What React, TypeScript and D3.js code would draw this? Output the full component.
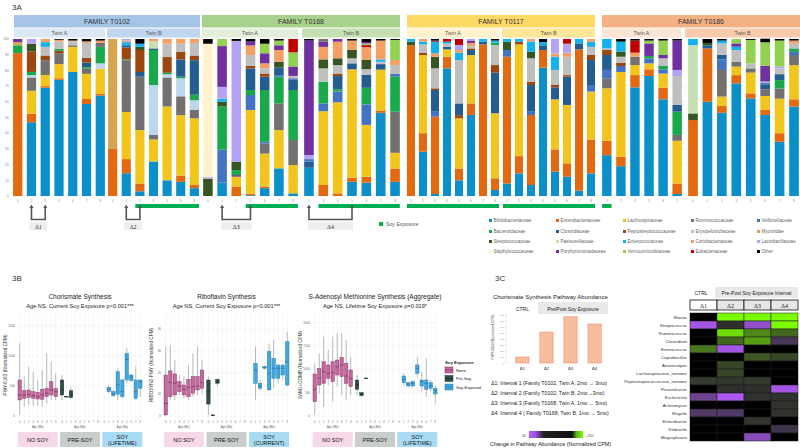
import React from "react";
import * as d3 from "d3";

const SANS = "'Liberation Sans', Arial, Helvetica, sans-serif";
const SERIF = "'Liberation Serif', 'Times New Roman', serif";

// ================= 3A DATA =================
const taxaKeys = ["Bi","En","La","Ru","Ve","Ba","Cl","Pe","Er","My","St","Pa","Ec","Co","Lb","Sa","Po","Vr","Eu","Ot"];
const taxaNames = ["Bifidobacteriaceae","Enterobacteriaceae","Lachnospiraceae","Ruminococcaceae","Veillonellaceae","Bacteroidaceae","Clostridiaceae","Peptostreptococcaceae","Erysipelotrichaceae","Myoviridae","Streptococcaceae","Pasteurellaceae","Enterococcaceae","Coriobacteriaceae","Lactobacillaceae","Staphylococcaceae","Porphyromonadaceae","Verrucomicrobiaceae","Eubacteriaceae","Other"];
const taxaColors = ["#0a8fc9","#e2690f","#f2c51d","#737070","#4472c4","#19a84a","#245e91","#9b470f","#bfbfbf","#d5a64f","#375623","#c5e0b4","#11b2ef","#f4a064","#b4a2f2","#fff2cc","#7030a0","#92d050","#c00000","#000000"];
const unlistedKey = "Un";
const unlistedColor = "#bdd7ee";

const families = ["FAMILY T0102","FAMILY T0168","FAMILY T0117","FAMILY T0186"];
const twinNames = ["Twin A","Twin B"];

const agesT0102A = ["0","2","3","5","6","7","8"];
const agesT0102B = ["0","2","3","4","5","6","8"];
const agesT0168A = ["0","1","2","5","6","7","8"];
const agesT0168B = ["1","3","4","5","6","7","8"];
const agesT0117A = ["1","2","3","4","5","6","7","8"];
const agesT0117B = ["1","2","3","4","5","6","7","8"];
const agesT0186A = ["1","2","4","5","6","7"];
const agesT0186B = ["0","1","2","4","5","6","7","8"];

const barsT0102A = [
  "En:91 Ba:5 My:2 Po:2",
  "Bi:47 En:5.5 La:14.5 Ru:8.5 Un:1.5 Ba:2 Pe:13 St:5 Lb:3",
  "Bi:69 En:1 La:7 Ru:9.5 Pe:3 Er:5.5 Ec:3 Co:2",
  "Bi:74 En:1 La:9 Ru:7 Pe:1.5 Ba:1.3 Er:4.7 Co:1 Ot:0.5",
  "Bi:79 La:16 Ru:1 Er:2.5 Co:0.5 Ot:1",
  "Bi:58.6 En:3.2 La:16 Ru:3.2 Ba:1 Cl:3 Pe:3 Er:9.5 Co:1 Ot:1.5",
  "Bi:64 En:1 La:16 Un:3.5 Ba:10.5 Ru:2.5 Co:1.5 Ot:1",
];
const barsT0102B = [
  "En:30 My:70",
  "Bi:14.5 En:9 La:30 Ru:33 Ba:0.5 Pe:7.5 Cl:1.5 Ec:2 Co:1 Lb:1",
  "Bi:3 En:5 La:34 Ru:34 Cl:3 Pe:14 St:2 Ec:2 Ot:3",
  "Bi:22 La:14 Ru:3 Un:31.7 Ba:22.3 Cl:1 Pa:4.5 Co:1.5",
  "Bi:10 La:47 Ru:18.5 Un:2 Ba:1 Pe:10 Er:8.5 Co:3",
  "Bi:9 En:4 La:38.5 Ru:12 Un:11.5 Ba:1 Cl:11 Pe:5 Er:5 Co:3",
  "Bi:5 En:2 La:42.5 Ru:5.5 Un:6 Ba:3.5 Cl:22 Pe:3 Er:8 Co:2.5",
];
const barsT0168A = [
  "St:11 Lb:1 Sa:85 Ot:3",
  "Bi:8.5 Ve:21 Ba:27.5 St:3 Ec:2 Lb:7.5 Po:26 Vr:4.5",
  "En:6 La:6.3 Po:1 Ba:3.2 St:5.3 Lb:77 Ot:1.2",
  "Bi:0.5 En:1 La:53.3 Ve:9.5 Ba:3.2 Cl:13.8 Pe:1.5 Er:7 Co:6.1 Po:2.5 Ot:1.6",
  "Bi:5 En:1 La:21 Ru:6.5 Ve:1 Ba:33 Cl:8.5 Pe:2 Er:3.3 Co:3.2 Po:6.4 Vr:6.1 Ot:3",
  "Bi:17.6 La:24.4 Ru:17 Ba:17 Ve:1 Cl:5 St:3.6 Co:7.4 Po:3 Vr:3 Ot:1",
  "Bi:1.7 La:18 Ru:16 Ba:31.8 Cl:6.5 Ve:1 Er:1.5 Po:6 Vr:9 Eu:8.5",
];
const barsT0168B = [
  "Bi:18 Cl:4 Ve:1.5 Lb:2.6 Po:72.9 Ot:1",
  "En:7 La:47 Ve:5 Ba:13.8 Er:8.5 St:5.7 Co:8 Po:3.3 Ru:1.7",
  "En:1.7 La:58 Ve:6.8 Ba:1.5 Cl:8.4 Pe:1.6 Er:5.4 St:4.3 Co:10.6 Po:1.7",
  "Bi:9 En:2.7 La:69 Cl:3.8 Er:3.2 St:5.3 Co:6 Ot:1",
  "Bi:8.5 En:3.8 La:33 Ve:13 Ba:10.6 Cl:8.4 Er:3.5 St:6 Co:8 Eu:1.3 Vr:1 Po:1 Ot:1.9",
  "Bi:53 En:1.5 La:26 Cl:3.5 Er:1.5 Ec:1.5 Co:12 Ot:1",
  "Bi:9 En:8.5 La:10 Ru:26.2 Ba:22.3 Ve:1.7 Er:5.7 Co:3.2 Vr:12.8 Ot:0.6",
];
const barsT0117A = [
  "En:96 St:2.3 Ec:1.7",
  "Bi:28.2 En:11.8 La:49.8 Pe:1.5 Er:5.3 Ec:1.7 Co:1.7",
  "Bi:1.3 En:49.2 Ve:3.2 Cl:13.8 Pe:1.1 Er:12.7 St:7.4 Co:2.2 Ec:7.4 Eu:0.7 Ot:1",
  "Bi:81.3 En:7.4 La:4.7 Cl:1.7 Er:2 Ec:1.2 Eu:1.7",
  "Bi:10 En:7.5 La:32 Pe:2 Cl:7.5 Er:27.6 Ec:4.7 Co:1.7 Lb:3.2 Eu:3.8",
  "Bi:51.6 En:7.4 La:30.8 Cl:3.2 Pe:1 Er:1.5 Co:2 Po:1.5 Lb:1",
  "En:96.6 Cl:1.7 Ec:1.7",
  "Bi:3.8 En:7.5 La:41.4 Cl:25.9 Pe:4.8 Er:12.8 Ba:1.5 Ec:1.3 Ot:1",
];
const barsT0117B = [
  "Bi:8 En:80.7 Ve:4.3 St:5.3 Ec:1.7",
  "Bi:14.4 En:11 La:71.2 Pe:1.7 Ec:1.7",
  "Bi:7 En:44.6 Ve:2.1 Cl:17 Pe:2.1 Er:14.9 St:4.3 Ec:6.4 Co:1.6",
  "Bi:81.7 En:11.3 Cl:3 Ec:2 Ot:2",
  "Bi:15.5 En:14.2 La:31.9 Cl:7.6 Pe:1.5 Er:9.6 Ec:8.4 Co:2.1 Lb:9.2",
  "Bi:12.3 En:8.5 La:37.2 Cl:18 Pe:1 Er:11.7 Co:2.6 Lb:5.7 Eu:3",
  "Bi:3.4 En:90 Cl:3.8 Ec:2.8",
  "Bi:14.4 En:21.6 La:30.5 Ve:4.2 Cl:15.9 Pe:3.2 Er:5.2 Ec:3.2 Co:1.8",
];
const barsT0186A = [
  "Bi:26 En:9.2 La:33.4 Ru:6.4 Ve:5.3 Cl:9.5 Pe:3.2 Er:1 Ec:6",
  "Bi:19 En:6 La:54 Ve:3.8 Pe:2.2 Er:3.7 St:3.3 Ec:6.3 Ot:1.7",
  "Bi:69.2 En:7.8 La:6.4 Ru:5.3 Co:2.6 Eu:7.7 Ot:1",
  "Bi:76.4 En:4.3 La:3.8 Ve:3.2 Ba:1.5 Po:8 Vr:1.8 Ot:1",
  "Bi:61.6 En:7.4 La:9 Ve:2.7 Ba:2.1 Er:4.9 Po:2.1 Vr:9.2 Ot:1",
  "Bi:1.3 En:6.7 La:27.2 Ru:3.7 Ba:14.8 Cl:4.3 Er:18.4 Lb:3.9 Po:18.7 Ot:1",
];
const barsT0186B = [
  "En:48.4 St:4.2 Pa:43.5 Ec:3.9",
  "Bi:60 En:34 Cl:2 St:1.5 Ot:2.5",
  "Bi:53 En:4.3 La:6 Ru:17 Ve:6.7 Cl:2.8 Er:7.4 Ec:1.8 Ot:1",
  "Bi:71.8 En:5.2 La:5.4 Ru:3.2 Er:7.4 Ec:2.1 Po:2.1 Vr:2.8",
  "Bi:62.2 En:3.2 La:13.2 Ru:2.7 Er:3.2 Vr:14.9 Ot:0.6",
  "Bi:51.6 En:3.2 La:8.9 Ru:4.3 Cl:2.8 Ve:1.5 Er:0.6 Po:10.1 Vr:14.9 Ot:2.3",
  "Bi:34.6 En:5.4 La:22 Ru:6.4 Ba:5.4 Cl:3.8 Er:3.6 Lb:1.3 Vr:16.5 Ot:1",
  "Bi:57 En:4.6 La:21.8 Ru:6.4 Ve:2 Ba:2.2 Er:3 Co:2 Ot:1",
];

const soyT0102A: number[] = [];
const soyT0102B = [2,3,4,5,6];
const soyT0168A = [3,4,5,6];
const soyT0168B = [1,2,3,4,5,6];
const soyT0117A = [0,1,2,3,4,5,6,7];
const soyT0117B = [0,1,2,3,4,5,6,7];
const soyT0186A = [0];
const soyT0186B: number[] = [];

const deltaLabels = ["Δ1","Δ2","Δ3","Δ4"];
const deltaFamily = [0,0,1,1];
const deltaTwin = [0,1,0,1];
const deltaFrom = [1,1,1,0];
const deltaTo = [2,2,3,3];

// ================= 3B DATA =================
const bTitles = ["Chorismate Synthesis","Riboflavin Synthesis","S-Adenosyl Methionine Synthesis (Aggregate)"];
const bSubtitles = ["Age NS, Current Soy Exposure p<0.001***","Age NS, Current Soy Exposure p<0.001***","Age NS, Lifetime Soy Exposure p=0.019*"];
const bYLabels = ["PWY-6163 (Normalized CPM)","RIBOSYN2-PWY (Normalized CPM)","SAM1+COMB (Normalized CPM)"];
const bFacetLabels = [["NO SOY","PRE-SOY","SOY\n(LIFETIME)"],["NO SOY","PRE-SOY","SOY\n(CURRENT)"],["NO SOY","PRE-SOY","SOY\n(LIFETIME)"]];
const bDomains = [[0,1716],[0,47.5],[0,2207]];
const bTicks = [[0,500,1000,1500],[0,10,20,30,40],[0,500,1000,1500,2000]];
const ageTicks = ["0","1","2","3","4","5","6","7","8"];

const boxesChorismate = [
  [0,0,17,267,350,600,1211],[0,1,156,294,350,422,656],[0,2,183,306,361,433,822],[0,3,167,294,339,406,739],
  [0,4,167,283,322,394,600],[0,5,156,278,350,444,767],[0,6,211,322,378,461,1044],[0,7,267,350,433,572,906],
  [0,8,267,322,406,461,711],
  [1,0,267,350,444,600,683],[1,1,311,320,322,326,333],[1,2,294,306,367,422,478],
  [2,1,378,406,444,478,517],[2,2,322,339,367,406,433],[2,3,267,361,517,739,794],[2,4,294,322,406,600,628],
  [2,5,544,600,944,1044,1128],[2,6,572,589,644,683,700],[2,7,267,294,406,600,822],[2,8,322,461,572,600,600],
];
const boxesRiboflavin = [
  [0,0,0,0.5,5.8,18.9,32],[0,1,7.4,8.9,15.5,20.8,32.8],[0,2,7.4,9.7,15.1,19.4,25.8],[0,3,9.7,11.2,13.8,15.8,18.9],
  [0,4,8.2,9.7,12.3,14.3,18.2],[0,5,7.4,8.9,13.2,16.9,23.5],[0,6,8.9,10.5,13.5,18.2,28.9],[0,7,9.7,12,13.8,18.2,32],
  [0,8,10.5,12.8,15.4,21.2,25.8],
  [1,0,0.5,5.5,11.2,16.6,18.2],[1,1,0,0.15,0.3,0.5,0.5],[1,2,13.8,15.1,15.8,16.9,17.4],
  [2,1,7.4,15.1,21.2,24.3,32],[2,2,12,12.8,13.8,15.1,16.6],[2,3,21.5,22,22.5,22.8,23.1],[2,4,12,12,19.7,29.7,33.5],
  [2,5,12.8,17.4,22,26.6,35],[2,6,15.1,17.4,22,23.5,24.3],[2,7,16.6,18.9,22,23.5,24.3],[2,8,13.5,14.3,25,34.3,38.9],
];
const boxesSAM = [
  [0,0,21,307,571,900,1129],[0,1,486,664,807,1021,1343],[0,2,200,700,950,1164,1700],[0,3,664,807,914,1093,1414],
  [0,4,307,736,929,1164,1700],[0,5,629,879,1057,1200,1771],[0,6,450,843,1093,1257,1771],[0,7,343,700,857,1129,1629],
  [0,8,450,629,807,986,1271],
  [1,0,450,571,664,771,879],[1,1,414,436,471,500,521],[1,2,793,800,807,814,821],
  [2,1,664,714,786,857,914],[2,2,614,643,686,714,736],[2,3,614,643,700,736,771],[2,4,843,914,1021,1093,1271],
  [2,5,521,643,736,771,950],[2,6,414,571,700,771,1236],[2,7,521,593,643,714,771],[2,8,271,471,543,593,664],
];
const soyGroupNames = ["None","Pre-Soy","Soy-Exposed"];
const soyGroupFill = ["#c4699e","#2f4d4a","#3fa8e0"];
const soyGroupStroke = ["#7a2d5d","#16302d","#22709f"];
const facetBoxFill = ["#f6d8e8","#c9cecd","#a9dcf4"];

// ================= 3C DATA =================
const chorismateByInterval = [100, 515, 770, 650];
const barTicks = [0,100,200,300,400,500,600,700,800];
const intervalDescriptions = [
  "Δ1: Interval 1 (Family T0102, Twin A, 2mo → 3mo)",
  "Δ2: Interval 2 (Family T0102, Twin B, 2mo→3mo)",
  "Δ3: Interval 3  (Family T0168, Twin A, 1mo → 5mo)",
  "Δ4: Interval 4 ( Family T0168, Twin B, 1mo → 5mo)",
];
const heatGenera = ["Blautia","Streptococcus","Ruminococcus","Clostridium","Enterococcus","Coprobacillus","Anaerostipes","Lachnospiraceae_noname","Peptostreptococcaceae_noname","Flavonifractor","Escherichia","Actinomyces","Shigella","Enterobacter","Klebsiella","Megasphaera"];
const heatValues: (number | null)[][] = [
  [null,450,450,450],
  [-26,3,-22,450],
  [null,380,195,123],
  [null,123,245,-6],
  [160,-26,null,null],
  [null,null,87,50],
  [null,50,null,null],
  [null,50,null,null],
  [27,20,27,null],
  [null,4,4,-26],
  [-14,-28,8,8],
  [null,null,null,8],
  [-8,-8,null,8],
  [null,null,15,null],
  [null,null,null,-4],
  [null,null,-20,null],
];

// ================= helpers =================
const parseBar = (s: string) =>
  s.split(" ").filter(Boolean).map((t) => {
    const [k, v] = t.split(":");
    return { k, v: +v };
  });
const colorOf: Record<string, string> = Object.fromEntries(taxaKeys.map((k, i) => [k, taxaColors[i]]));
colorOf[unlistedKey] = unlistedColor;

const twinBars = [[barsT0102A, barsT0102B],[barsT0168A, barsT0168B],[barsT0117A, barsT0117B],[barsT0186A, barsT0186B]];
const twinAges = [[agesT0102A, agesT0102B],[agesT0168A, agesT0168B],[agesT0117A, agesT0117B],[agesT0186A, agesT0186B]];
const twinSoy = [[soyT0102A, soyT0102B],[soyT0168A, soyT0168B],[soyT0117A, soyT0117B],[soyT0186A, soyT0186B]];

const famSpans = [[14,200],[202,400],[407,595],[602,800]];
const twinSpans = [[[14,105],[107,200]],[[202,298],[302,400]],[[407,499],[502,595]],[[602,681],[685,800]]];
const barSpans = [[[12,106],[107,200]],[[202,299],[303,401]],[[406,500],[502,596]],[[601,683],[687,800]]];
const famColors = ["#a6c5e6","#a9d18e","#ffd966","#f4b183"];
const twinColors = [["#dce8f6","#bed6ee"],["#e3efda","#c6e0b4"],["#fff2cc","#ffe699"],["#fbe5d6","#f8cbad"]];

function xScaleFor(f: number, t: number) {
  return d3.scaleBand<number>()
    .domain(d3.range(twinBars[f][t].length))
    .range(barSpans[f][t] as [number, number])
    .paddingInner(0.33)
    .paddingOuter(0.08);
}

function Panel3A() {
  const y = d3.scaleLinear().domain([0, 100]).range([196, 39]);
  const yTicks = d3.range(0, 101, 10);
  const legCols = [489, 556, 623, 691, 757];
  const legRows = [222, 233, 243, 253];
  return (
    <g>
      <text x={12} y={10} fontSize={8} fill="#333" fontFamily={SANS}>3A</text>
      {yTicks.map((t) => (
        <g key={t}>
          <line x1={11} x2={800} y1={y(t)} y2={y(t)} stroke="#ececec" strokeWidth={0.5} />
          <text x={9} y={y(t) + 1.2} fontSize={3.5} fill="#888" textAnchor="end" fontFamily={SANS}>{t}</text>
        </g>
      ))}
      {families.map((fam, f) => (
        <g key={fam}>
          <rect x={famSpans[f][0]} y={15} width={famSpans[f][1] - famSpans[f][0]} height={12.5} fill={famColors[f]} />
          <text x={(famSpans[f][0] + famSpans[f][1]) / 2} y={24} fontSize={7} textAnchor="middle" fill="#333" fontFamily={SANS}>{fam}</text>
          {twinNames.map((tn, t) => {
            const sp = twinSpans[f][t];
            const xs = xScaleFor(f, t);
            const bars = twinBars[f][t];
            const soy = twinSoy[f][t];
            return (
              <g key={tn}>
                <rect x={sp[0]} y={28.5} width={sp[1] - sp[0]} height={9} fill={twinColors[f][t]} />
                <text x={(sp[0] + sp[1]) / 2} y={35.2} fontSize={5.4} textAnchor="middle" fill="#555" fontFamily={SANS}>{tn}</text>
                {bars.map((s, i) => {
                  const segs = parseBar(s);
                  const ends = d3.cumsum(segs.map((d) => d.v));
                  const bx = xs(i) as number;
                  return (
                    <g key={i}>
                      {segs.map((d, j) => (
                        <rect key={j} x={bx} width={xs.bandwidth()} y={y(ends[j])} height={y(ends[j] - d.v) - y(ends[j])} fill={colorOf[d.k]} />
                      ))}
                      <text x={bx + xs.bandwidth() / 2} y={202} fontSize={3.2} fill="#888" textAnchor="middle" fontFamily={SANS}>{twinAges[f][t][i]}</text>
                    </g>
                  );
                })}
                {soy.length > 0 && (
                  <rect x={xs(soy[0]) as number} y={204} width={(xs(soy[soy.length - 1]) as number) + xs.bandwidth() - (xs(soy[0]) as number)} height={4} fill="#00b050" />
                )}
              </g>
            );
          })}
        </g>
      ))}
      {deltaLabels.map((lab, k) => {
        const xs = xScaleFor(deltaFamily[k], deltaTwin[k]);
        const x1 = (xs(deltaFrom[k]) as number) + xs.bandwidth() / 2;
        const x2 = (xs(deltaTo[k]) as number) + xs.bandwidth() / 2;
        const mid = (x1 + x2) / 2;
        const bx0 = Math.min(x1 - 1, mid - 9);
        const bx1 = Math.max(x2 + 1, mid + 9);
        return (
          <g key={lab}>
            <path d={`M${x1},207.5 V219.5 H${x2} V207.5`} fill="none" stroke="#555" strokeWidth={1.6} />
            <path d={`M${x1 - 2},208 L${x1},204.5 L${x1 + 2},208 Z`} fill="#555" />
            <path d={`M${x2 - 2},208 L${x2},204.5 L${x2 + 2},208 Z`} fill="#555" />
            <rect x={bx0} y={222} width={bx1 - bx0} height={8} fill="#eeeeee" />
            <text x={mid} y={228.5} fontSize={6} textAnchor="middle" fill="#333" fontFamily={SERIF}>{lab}</text>
          </g>
        );
      })}
      <rect x={379} y={222} width={4} height={4} fill="#00b050" />
      <text x={386} y={226} fontSize={5.2} fill="#555" fontFamily={SANS}>Soy Exposure</text>
      {taxaNames.map((n, i) => (
        <g key={n}>
          <rect x={legCols[i % 5]} y={legRows[Math.floor(i / 5)] - 3} width={3} height={3} fill={taxaColors[i]} />
          <text x={legCols[i % 5] + 4.5} y={legRows[Math.floor(i / 5)]} fontSize={4.6} fill="#666" fontFamily={SANS}>{n}</text>
        </g>
      ))}
    </g>
  );
}

const bPanelX = [[17,143],[163,290],[312,438]];
const bBoxes = [boxesChorismate, boxesRiboflavin, boxesSAM];

function BoxPanel({ p }: { p: number }) {
  const [x0, x1] = bPanelX[p];
  const y = d3.scaleLinear().domain(bDomains[p]).range([416, 313]);
  const fx = d3.scaleBand<number>().domain([0, 1, 2]).range([x0, x1]).paddingInner(0.02);
  const ax = d3.scaleBand<number>().domain(d3.range(9)).range([0, fx.bandwidth()]).padding(0.22);
  const cx = (f: number, a: number) => (fx(f) as number) + (ax(a) as number) + ax.bandwidth() / 2;
  const midX = (x0 + x1) / 2;
  return (
    <g fontFamily={SANS}>
      <text x={midX} y={299} fontSize={6.5} textAnchor="middle" fill="#222">{bTitles[p]}</text>
      <text x={midX} y={308} fontSize={5.7} textAnchor="middle" fill="#222">{bSubtitles[p]}</text>
      {[0, 1, 2].map((f) => (
        <g key={f}>
          {d3.range(9).map((a) => (
            <line key={a} x1={cx(f, a)} x2={cx(f, a)} y1={313} y2={418} stroke="#ebebeb" strokeWidth={0.4} />
          ))}
          {bTicks[p].map((t) => (
            <line key={t} x1={fx(f) as number} x2={(fx(f) as number) + fx.bandwidth()} y1={y(t)} y2={y(t)} stroke="#ebebeb" strokeWidth={0.4} />
          ))}
          {d3.range(9).map((a) => (
            <text key={a} x={cx(f, a)} y={423} fontSize={2.6} textAnchor="middle" fill="#666">{ageTicks[a]}</text>
          ))}
          <text x={(fx(f) as number) + fx.bandwidth() / 2} y={428} fontSize={2.8} textAnchor="middle" fill="#555">Age (Mo)</text>
          <rect x={(fx(f) as number) + fx.bandwidth() / 2 - 20} y={432} width={40} height={15} fill={facetBoxFill[f]} />
          {bFacetLabels[p][f].split("\n").map((ln, li, arr) => (
            <text key={li} x={(fx(f) as number) + fx.bandwidth() / 2} y={441.5 + (li - (arr.length - 1) / 2) * 6} fontSize={5.5} textAnchor="middle" fill="#111">{ln}</text>
          ))}
        </g>
      ))}
      {bTicks[p].map((t) => (
        <text key={t} x={x0 - 2} y={y(t) + 1} fontSize={3} textAnchor="end" fill="#666">{t}</text>
      ))}
      <text transform={`translate(${x0 - 10},365) rotate(-90)`} fontSize={4.6} textAnchor="middle" fill="#333">{bYLabels[p]}</text>
      {bBoxes[p].map((b, i) => {
        const [f, a, lo, q1, md, q3, hi] = b;
        const c = cx(f, a);
        const w = ax.bandwidth();
        return (
          <g key={i}>
            <line x1={c} x2={c} y1={y(lo)} y2={y(hi)} stroke="#555" strokeWidth={0.4} />
            <rect x={c - w / 2} width={w} y={y(q3)} height={Math.max(0.6, y(q1) - y(q3))} fill={soyGroupFill[f]} stroke={soyGroupStroke[f]} strokeWidth={0.4} />
            <line x1={c - w / 2} x2={c + w / 2} y1={y(md)} y2={y(md)} stroke={soyGroupStroke[f]} strokeWidth={0.7} />
          </g>
        );
      })}
    </g>
  );
}

function Panel3B() {
  return (
    <g>
      <text x={12} y={281} fontSize={8} fill="#333" fontFamily={SANS}>3B</text>
      {[0, 1, 2].map((p) => <BoxPanel key={p} p={p} />)}
      <g fontFamily={SANS}>
        <text x={445} y={364} fontSize={4.3} fontWeight="bold" fill="#222">Soy Exposure</text>
        {soyGroupNames.map((n, i) => (
          <g key={n}>
            <rect x={445} y={367 + i * 8.5} width={8} height={6} fill={soyGroupFill[i]} stroke={soyGroupStroke[i]} strokeWidth={0.5} />
            <line x1={445} x2={453} y1={370 + i * 8.5} y2={370 + i * 8.5} stroke={soyGroupStroke[i]} strokeWidth={0.6} />
            <text x={456} y={371.5 + i * 8.5} fontSize={4.2} fill="#222">{n}</text>
          </g>
        ))}
      </g>
    </g>
  );
}

function Panel3C() {
  const xb = d3.scaleBand<string>().domain(deltaLabels).range([511, 606]).paddingInner(0.45).paddingOuter(0.2);
  const yb = d3.scaleLinear().domain([0, 800]).range([363, 315]);
  const heat = d3.scaleLinear<string>().domain([-30, 0, 450]).range(["#b45cff", "#2e2e2e", "#7cfc00"]).clamp(true);
  const hx = d3.scaleBand<string>().domain(deltaLabels).range([690, 798]);
  const hy = d3.scaleBand<string>().domain(heatGenera).range([313, 441]);
  return (
    <g fontFamily={SANS}>
      <text x={495} y={281} fontSize={8} fill="#333">3C</text>
      <text x={493} y={299} fontSize={6} fill="#222">Chorismate Synthesis Pathway Abundance</text>
      <text x={xb("Δ1")! + xb.bandwidth() / 2} y={311} fontSize={5} textAnchor="middle" fill="#222">CTRL</text>
      <rect x={538} y={302} width={70} height={12} fill="#e9e9e9" />
      <text x={573} y={310.5} fontSize={5} textAnchor="middle" fill="#222">Pre/Post Soy Exposure</text>
      <text transform="translate(494,337) rotate(-90)" fontSize={3.4} textAnchor="middle" fill="#444">PWY-6163 (Normalized CPM)</text>
      <line x1={506} x2={506} y1={314} y2={363} stroke="#ddd" strokeWidth={0.4} />
      {barTicks.map((t) => (
        <g key={t}>
          <line x1={505} x2={507} y1={yb(t)} y2={yb(t)} stroke="#bbb" strokeWidth={0.4} />
          <text x={504} y={yb(t) + 0.8} fontSize={2.4} textAnchor="end" fill="#888">{t}</text>
        </g>
      ))}
      {chorismateByInterval.map((v, i) => (
        <g key={i}>
          <rect x={xb(deltaLabels[i])} y={yb(v)} width={xb.bandwidth()} height={yb(0) - yb(v)} fill="#f6bda0" stroke="#ee9066" strokeWidth={0.6} />
          <text x={xb(deltaLabels[i])! + xb.bandwidth() / 2} y={370} fontSize={4.2} textAnchor="middle" fill="#222">{deltaLabels[i]}</text>
        </g>
      ))}
      {intervalDescriptions.map((s, i) => (
        <text key={i} x={491} y={385 + i * 10} fontSize={5.2} fill="#222">{s}</text>
      ))}
      <defs>
        <linearGradient id="chg" x1="0" x2="1" y1="0" y2="0">
          <stop offset="0" stopColor="#b45cff" />
          <stop offset="0.12" stopColor="#a050e6" />
          <stop offset="0.27" stopColor="#222" />
          <stop offset="0.8" stopColor="#111" />
          <stop offset="0.88" stopColor="#56b81e" />
          <stop offset="1" stopColor="#7cfc00" />
        </linearGradient>
      </defs>
      <text x={526} y={436.5} fontSize={3.4} textAnchor="end" fill="#555">-30</text>
      <rect x={529} y={431} width={54} height={7} fill="url(#chg)" />
      <text x={586} y={436.5} fontSize={3.4} fill="#555">+450</text>
      <text x={490} y={446} fontSize={5.4} fill="#222">Change in Pathway Abundance (Normalized CPM)</text>

      <text x={701} y={295} fontSize={5} textAnchor="middle" fill="#222">CTRL</text>
      <rect x={715} y={287} width={83} height={11} fill="#e9e9e9" />
      <text x={756.5} y={294.5} fontSize={5} textAnchor="middle" fill="#222">Pre-Post Soy Exposure Interval</text>
      {deltaLabels.map((d, i) => (
        <g key={d}>
          <rect x={hx(d)} y={300} width={hx.bandwidth()} height={10} fill={i === 0 ? "#ffffff" : "#e6e6e6"} stroke="#111" strokeWidth={0.8} />
          <text x={hx(d)! + hx.bandwidth() / 2} y={307.5} fontSize={6} textAnchor="middle" fill="#222" fontFamily={SERIF}>{d}</text>
        </g>
      ))}
      <rect x={690} y={313} width={108} height={128} fill="#000" />
      {heatGenera.map((g, r) => (
        <g key={g}>
          <text x={687} y={hy(g)! + hy.bandwidth() / 2 + 1.5} fontSize={4.3} textAnchor="end" fill="#333">{g}</text>
          {heatValues[r].map((v, c) => (
            <rect key={c} x={hx(deltaLabels[c])} y={hy(g)} width={hx.bandwidth()} height={hy.bandwidth()} fill={v === null ? "#000" : heat(v)} stroke="#1a1a1a" strokeWidth={0.5} />
          ))}
        </g>
      ))}
    </g>
  );
}

export default function App() {
  return (
    <svg width={800} height={448} viewBox="0 0 800 448" style={{ position: "absolute", left: 0, top: 0, background: "#fff" }}>
      <rect width={800} height={448} fill="#fff" />
      <Panel3A />
      <Panel3B />
      <Panel3C />
    </svg>
  );
}
